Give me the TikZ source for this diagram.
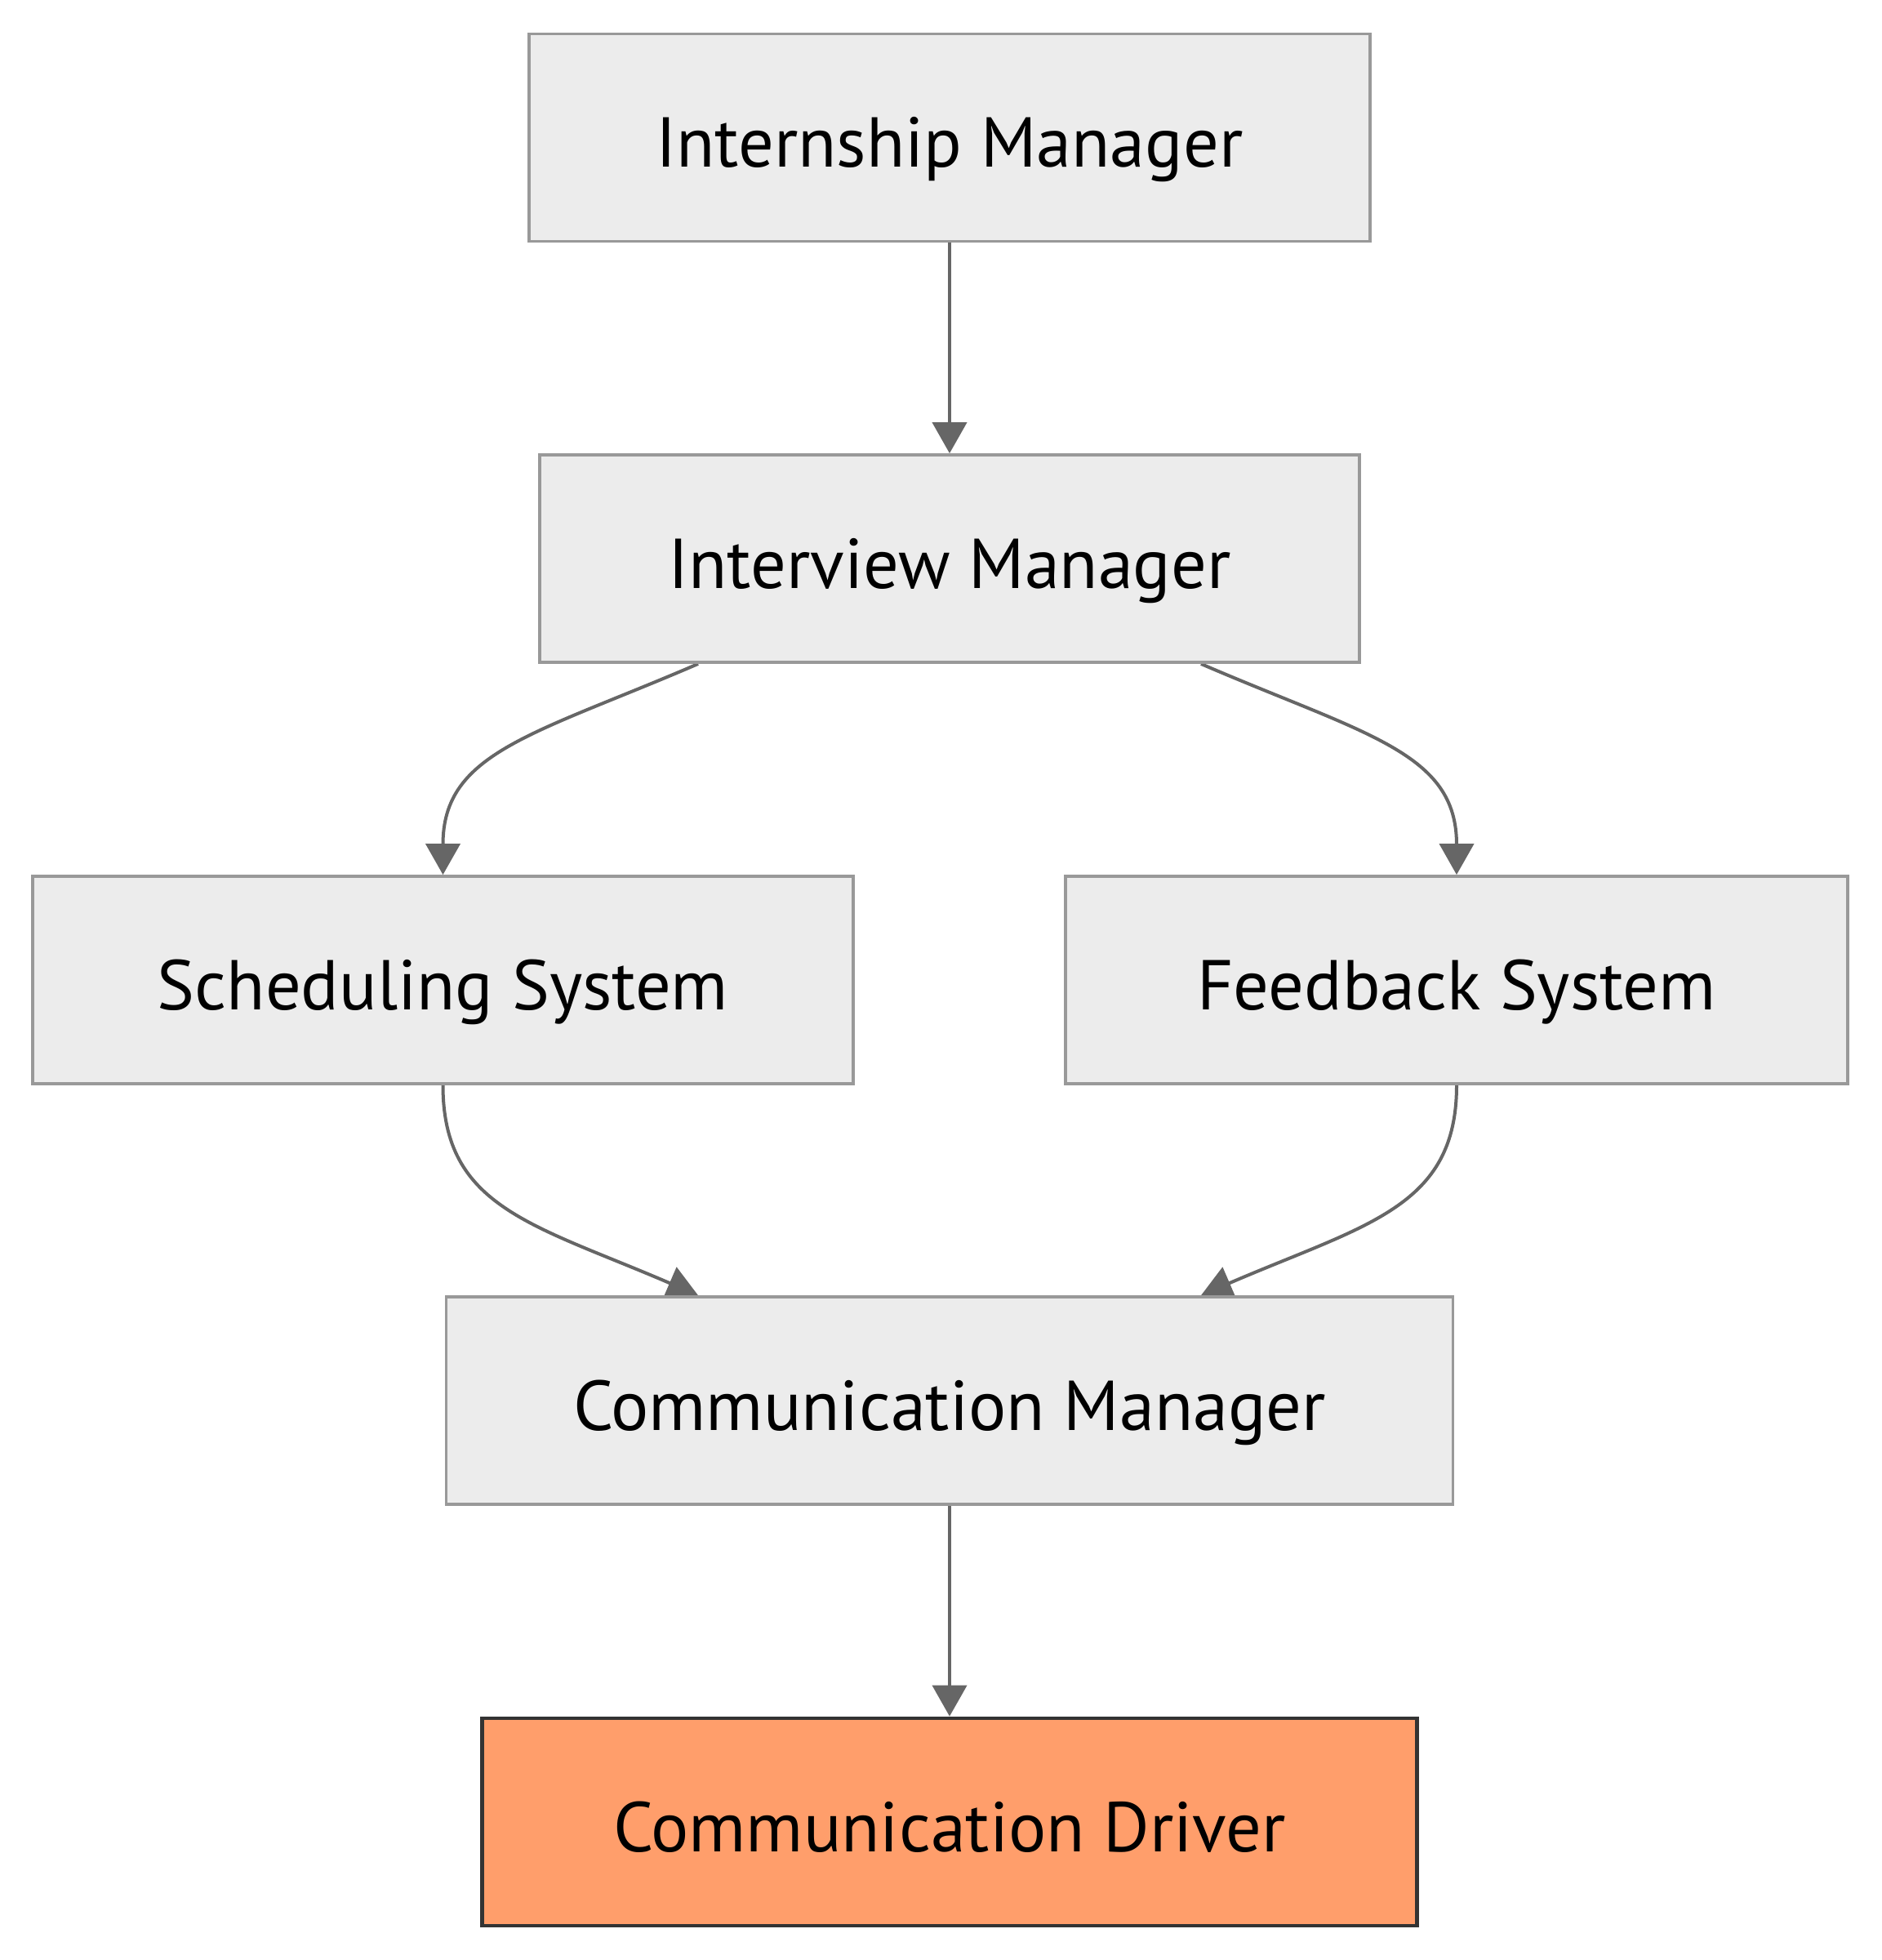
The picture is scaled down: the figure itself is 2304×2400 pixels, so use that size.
\documentclass[tikz,border=0pt]{standalone}
\usepackage{fontspec}
\setmainfont{PT Sans}
\usetikzlibrary{arrows.meta,calc}
\definecolor{boxfill}{HTML}{ECECEC}
\definecolor{boxline}{HTML}{999999}
\definecolor{edgecol}{HTML}{666666}
\definecolor{drvfill}{HTML}{FF9E6B}
\definecolor{drvline}{HTML}{333333}
\pgfdeclarelayer{bg}
\pgfsetlayers{bg,main}
\tikzset{
  box/.style={draw=boxline, fill=boxfill, line width=0.95pt, rectangle,
    minimum height=63.5pt, inner sep=0pt, font=\fontsize{21.6}{24}\selectfont,
    text height=18.1pt, text depth=0pt, text=black},
  drvbox/.style={box, draw=drvline, fill=drvfill, line width=1.2pt},
  edge/.style={draw=edgecol, line width=1pt,
    -{Triangle[length=9.5pt,width=10.5pt]}}
}
\begin{document}
\begin{tikzpicture}[x=0.25pt,y=-0.25pt]
\useasboundingbox (0,0) rectangle (2304,2400);
\node[box, minimum width=257.5pt] (internship) at (1163,168.5) {Internship Manager};
\node[box, minimum width=251pt] (interview) at (1163,684) {Interview Manager};
\node[box, minimum width=251.25pt] (sched) at (542.5,1200) {Scheduling System};
\node[box, minimum width=239.5pt] (feedback) at (1784,1200) {Feedback System};
\node[box, minimum width=308.25pt] (commmgr) at (1163,1715) {Communication Manager};
\node[drvbox, minimum width=286.25pt] (driver) at (1163,2231) {Communication Driver};
\begin{pgfonlayer}{bg}
\draw[edge] (internship) -- (interview);
\draw[edge] ($(interview.south)+(-308,0)$) .. controls +(-202,87) and +(0,-150) .. (sched.north);
\draw[edge] ($(interview.south)+(308,0)$) .. controls +(202,87) and +(0,-150) .. (feedback.north);
\draw[edge] (sched.south) .. controls +(0,150) and +(-202,-87) .. ($(commmgr.north)+(-308,0)$);
\draw[edge] (feedback.south) .. controls +(0,150) and +(202,-87) .. ($(commmgr.north)+(308,0)$);
\draw[edge] (commmgr) -- (driver);
\end{pgfonlayer}
\end{tikzpicture}
\end{document}
